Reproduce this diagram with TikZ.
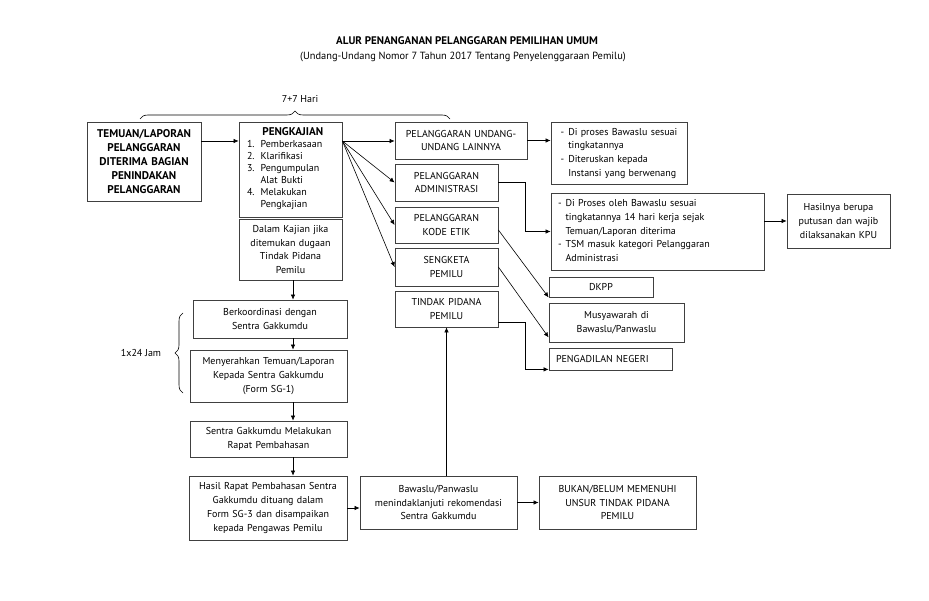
\documentclass[tikz,border=0pt]{standalone}
\usepackage{fontspec}
\setmainfont{PT Sans}
\usetikzlibrary{arrows.meta,decorations.pathreplacing}

\begin{document}
\begin{tikzpicture}[x=1pt,y=-1pt,
    box/.style={draw=black!75,line width=0.8pt,inner xsep=3pt,inner ysep=0pt,align=center,font=\fontsize{10}{13.7}\selectfont},
    arr/.style={-{Latex[length=5pt,width=4.5pt]},line width=0.6pt},
    brc/.style={decorate,decoration={brace,amplitude=8pt},line width=0.6pt}]
      \useasboundingbox (0,0) rectangle (929,601);
      \node[font=\fontsize{11}{12}\selectfont\bfseries] (judul) at (467,41) {ALUR PENANGANAN PELANGGARAN PEMILIHAN UMUM};
      \node[font=\fontsize{10.4}{12}\selectfont] (subjudul) at (463,57) {(Undang-Undang Nomor 7 Tahun 2017 Tentang Penyelenggaraan Pemilu)};
      \draw[brc] (140,119) -- (450,119); \node[font=\fontsize{10}{12}\selectfont] (hari) at (300,99) {7+7 Hari};
      \draw[brc] (183,393) -- (183,313); \node[font=\fontsize{10}{12}\selectfont] (jam) at (141,353) {1x24 Jam};
      \node[box,text width=108pt,minimum height=79pt,font=\fontsize{11.2}{13.9}\selectfont\bfseries] (temuan) at (144,161.5) {TEMUAN/LAPORAN\\PELANGGARAN\\DITERIMA BAGIAN\\PENINDAKAN\\PELANGGARAN};
      \node[box,inner xsep=8pt,text width=87pt,minimum height=95pt,align=left,font=\fontsize{10}{12}\selectfont] (kajian) at (290.5,169.5) {\begin{tabular}{@{}l@{\hspace{6pt}}p{72pt}@{}}\multicolumn{2}{@{}c@{}}{\hspace{6pt}\fontsize{11.2}{12}\selectfont\textbf{PENGKAJIAN}}\\1. & Pemberkasaan\\2. & Klarifikasi\\3. & Pengumpulan\\ & Alat Bukti\\4. & Melakukan\\ & Pengkajian\end{tabular}};
      \node[box,text width=97pt,minimum height=61pt] (dalam) at (290.5,249.5) {Dalam Kajian jika\\ditemukan dugaan\\Tindak Pidana\\Pemilu};
      \node[box,text width=148pt,minimum height=38pt] (berko) at (270,319) {Berkoordinasi dengan\\Sentra Gakkumdu};
      \node[box,text width=151pt,minimum height=52pt] (menyer) at (268.5,376) {Menyerahkan Temuan/Laporan\\Kepada Sentra Gakkumdu\\(Form SG-1)};
      \node[box,text width=151pt,minimum height=36pt] (rapat) at (268.5,439) {Sentra Gakkumdu Melakukan\\Rapat Pembahasan};
      \node[box,text width=152pt,minimum height=64pt] (hasil) at (268,508) {Hasil Rapat Pembahasan Sentra\\Gakkumdu dituang dalam\\Form SG-3 dan disampaikan\\kepada Pengawas Pemilu};
      \node[box,text width=151pt,minimum height=53pt] (bawaslu) at (438.5,502.5) {Bawaslu/Panwaslu\\menindaklanjuti rekomendasi\\Sentra Gakkumdu};
      \node[box,text width=151pt,minimum height=53pt] (bukan) at (617.5,502.5) {BUKAN/BELUM MEMENUHI\\UNSUR TINDAK PIDANA\\PEMILU};
      \node[box,text width=126pt,minimum height=37pt] (undang) at (461,140.5) {PELANGGARAN UNDANG-\\UNDANG LAINNYA};
      \node[box,text width=97pt,minimum height=37pt] (admin) at (446.5,182.5) {PELANGGARAN\\ADMINISTRASI};
      \node[box,text width=97pt,minimum height=36pt] (kode) at (446.5,225) {PELANGGARAN\\KODE ETIK};
      \node[box,text width=97pt,minimum height=38pt] (sengketa) at (446.5,267) {SENGKETA\\PEMILU};
      \node[box,text width=97pt,minimum height=36pt] (tindak) at (446.5,309) {TINDAK PIDANA\\PEMILU};
      \node[box,text width=130pt,minimum height=62pt] (proses) at (619,153) {\begin{tabular}{@{}l@{\hspace{4pt}}l@{}}- & Di proses Bawaslu sesuai\\ & tingkatannya\\- & Diteruskan kepada\\ & Instansi yang berwenang\end{tabular}};
      \node[box,inner xsep=7pt,text width=199pt,minimum height=77pt,align=left] (prosesadm) at (657.5,231.5) {\begin{tabular}{@{}l@{\hspace{4pt}}l@{}}- & Di Proses oleh Bawaslu sesuai\\ & tingkatannya 14 hari kerja sejak\\ & Temuan/Laporan diterima\\- & TSM masuk kategori Pelanggaran\\ & Administrasi\end{tabular}};
      \node[box,text width=97pt,minimum height=54pt] (putusan) at (838.5,221) {Hasilnya berupa\\putusan dan wajib\\dilaksanakan KPU};
      \node[box,text width=98pt,minimum height=20pt] (dkpp) at (601,287) {DKPP};
      \node[box,text width=129pt,minimum height=39pt] (musyawarah) at (616.5,322.5) {Musyawarah di\\Bawaslu/Panwaslu};
      \node[box,inner xsep=7pt,text width=109pt,minimum height=22pt,align=left] (pengadilan) at (610.5,359) {PENGADILAN NEGERI};
      \coordinate (k0) at (0,141);
      \coordinate (v0) at (293,0);
      \draw[arr] (temuan.east |- k0) -- (kajian.west |- k0);
      \draw[arr] (kajian.east |- k0) -- (undang.west |- k0);
      \draw[arr] (kajian.east |- k0) -- (admin.west);
      \draw[arr] (kajian.east |- k0) -- (kode.west);
      \draw[arr] (kajian.east |- k0) -- (sengketa.west);
      \draw[arr] (undang.east) -- (proses.west |- undang.east);
      \draw[arr] (admin.east) -- ++(27,0) |- (prosesadm.west);
      \draw[arr] (prosesadm.east |- putusan.west) -- (putusan.west);
      \draw[arr] ([yshift=-5pt]kode.east) -- (dkpp.south west);
      \draw[arr] (sengketa.east) -- ([yshift=5pt]musyawarah.south west);
      \draw[arr] ([yshift=5pt]tindak.south east) -- ++(27,0) |- ([yshift=1pt]pengadilan.south west);
      \draw[arr] (dalam.south -| v0) -- (berko.north -| v0);
      \draw[arr] (berko.south -| v0) -- (menyer.north -| v0);
      \draw[arr] (menyer.south -| v0) -- (rapat.north -| v0);
      \draw[arr] (rapat.south -| v0) -- (hasil.north -| v0);
      \draw[arr] (hasil.east) -- (bawaslu.west |- hasil.east);
      \draw[arr] (bawaslu.east) -- (bukan.west);
      \draw[arr] (bawaslu.north -| tindak.south) -- (tindak.south);
\end{tikzpicture}
\end{document}
